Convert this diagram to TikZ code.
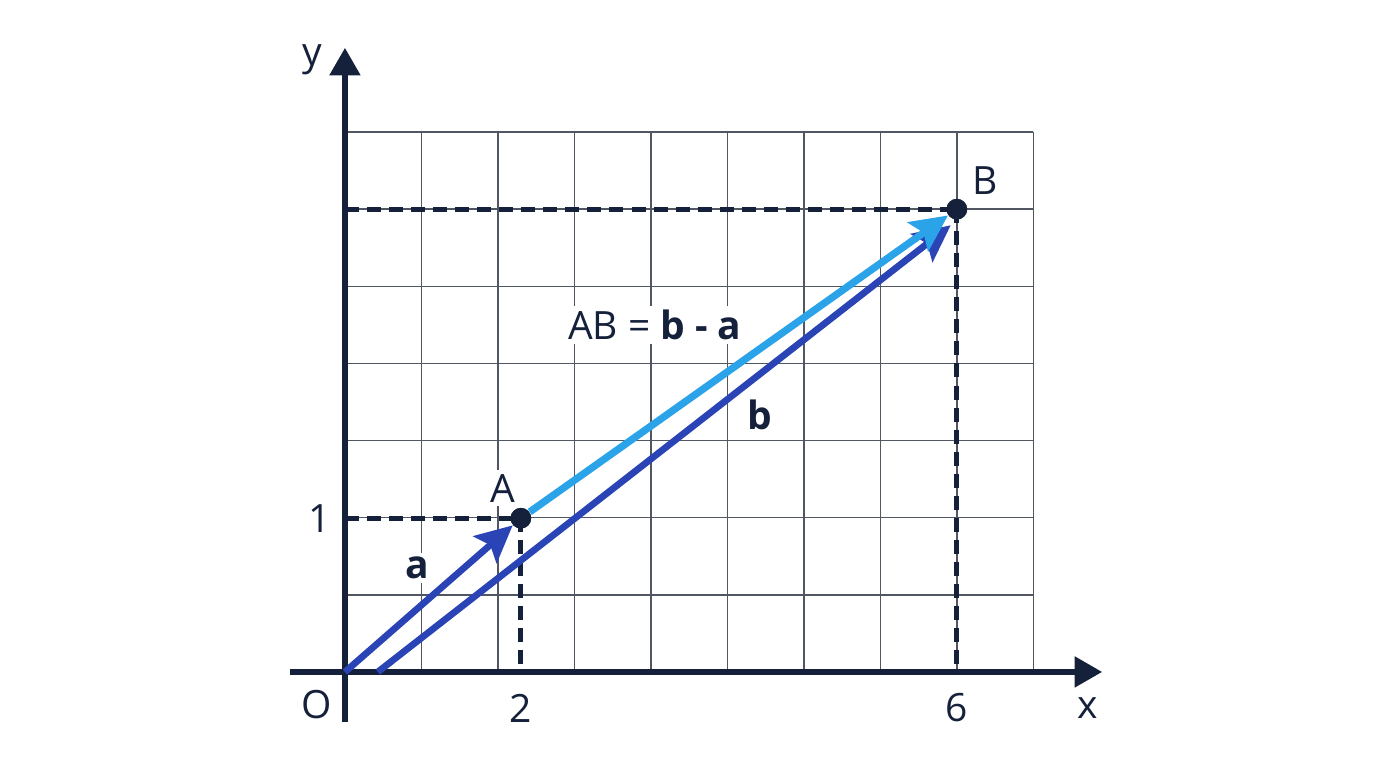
\documentclass[tikz,border=0pt]{standalone}
\usepackage{fontspec}
\setmainfont{Open Sans}
\usetikzlibrary{arrows.meta}
\definecolor{navy}{HTML}{15213B}
\definecolor{vecblue}{HTML}{2B44B5}
\definecolor{skyblue}{HTML}{2AA3E8}
\definecolor{gridgray}{HTML}{505662}

\begin{document}
\begin{tikzpicture}[
    gridline/.style={gridgray, line width=0.55pt},
    axis/.style={navy, line width=2.1pt, -{Triangle[length=3.6mm,width=3.9mm]}},
    guide/.style={navy, line width=1.8pt, dash pattern=on 5.2pt off 3pt},
    vec/.style={line width=2.5pt, -{Stealth[length=4.8mm,width=4.6mm,inset=0.9mm]}},
    lbl/.style={text=navy, font=\fontsize{14.5}{17}\selectfont, inner sep=1.5pt},
    dot/.style={circle, fill=navy, inner sep=0pt, minimum size=2.7mm}
  ]
  \useasboundingbox (-4.51,-1.255) rectangle (13.48,8.785);
  % Grid
  \draw[gridline, xstep=1, ystep=1.0085] (0,0) grid (9,7.06);
  % Axes
  \coordinate (xs) at (-0.72,0);
  \coordinate (xe) at (9.9,0);
  \coordinate (ys) at (0,-0.65);
  \coordinate (ye) at (0,8.16);
  \draw[axis] (xs) -- (xe);
  \draw[axis] (ys) -- (ye);
  % Points
  \coordinate (O) at (0,0);
  \coordinate (bs) at (0.43,0);
  \coordinate (bt) at (7.92,5.84);
  \node[dot] (A) at (2.3,2.01) {};
  \node[dot] (B) at (8,6.05) {};
  \coordinate (Ay) at (0,2.01);
  \coordinate (Ax) at (2.3,0);
  \coordinate (By) at (0,6.05);
  \coordinate (Bx) at (8,0);
  % Dashed guides
  \draw[guide] (Ay) -- (A.center);
  \draw[guide] (A.center) -- (Ax);
  \draw[guide] (By) -- (B.center);
  \draw[guide] (B.center) -- (Bx);
  % Vectors
  \draw[vec, vecblue] (O) -- (A);
  \draw[vec, vecblue] (bs) -- (bt);
  \draw[vec, skyblue, line width=2.7pt] (A) -- (B);
  \node[dot] at (A) {};
  \node[dot] at (B) {};
  % Labels
  \node[lbl] (ylbl) at (-0.43,8.0) {y};
  \node[lbl] (xlbl) at (9.71,-0.47) {x};
  \node[lbl] (olbl) at (-0.37,-0.43) {O};
  \node[lbl] (one) at (-0.33,2.01) {1};
  \node[lbl] (two) at (2.3,-0.47) {2};
  \node[lbl] (six) at (8,-0.47) {6};
  \node[lbl, fill=white] (Albl) at (2.07,2.4) {A};
  \node[lbl] (Blbl) at (8.37,6.43) {B};
  \node[lbl, fill=white] (albl) at (0.95,1.36) {\textbf{a}};
  \node[lbl] (blbl) at (5.42,3.36) {\textbf{b}};
  \node[lbl, fill=white] (ablbl) at (4.05,4.54) {AB = \textbf{b - a}};
\end{tikzpicture}
\end{document}
